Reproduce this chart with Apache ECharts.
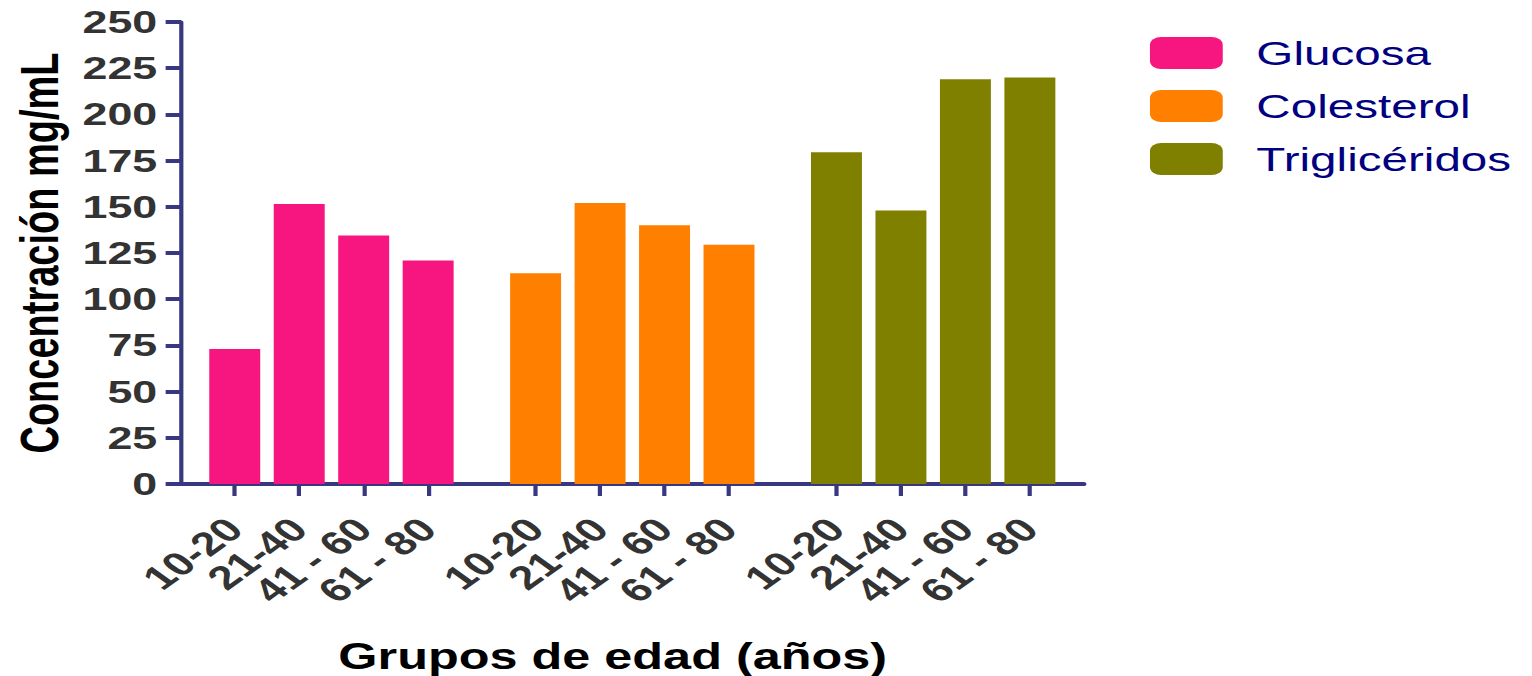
<!DOCTYPE html>
<html>
<head>
<meta charset="utf-8">
<script src="https://cdn.jsdelivr.net/npm/echarts@6/dist/echarts.min.js"></script>
<style>
html,body{margin:0;padding:0;background:#fff;overflow:hidden;}
#wrap{width:1532px;height:676px;overflow:hidden;}
#chart{width:1094.2857px;height:676px;transform:scaleX(1.4);transform-origin:0 0;}
</style>
</head>
<body>
<div id="wrap"><div id="chart"></div></div>
<script>
// ---- data ----
const ageGroups = ['10-20', '21-40', '41 - 60', '61 - 80'];
const seriesNames = ['Glucosa', 'Colesterol', 'Triglicéridos'];
const glucosa = [73, 151.5, 134.5, 121];
const colesterol = [114, 152, 140, 129.5];
const trigliceridos = [179.5, 148, 219, 220];
const seriesColors = ['#F7157F', '#FF8000', '#808000'];
const yAxisName = 'Concentración mg/mL';
const xAxisName = 'Grupos de edad (años)';

// ---- slot layout (category axis with spacer slots) ----
const LEAD = 2, STEP = 3, GAP = 5, TRAIL = 2;
function slotOf(g, i) { return LEAD + g * (STEP * (ageGroups.length - 1) + GAP) + i * STEP; }
const nSlots = slotOf(seriesNames.length - 1, ageGroups.length - 1) + 1 + TRAIL;
const categories = new Array(nSlots).fill('');
const labelSlots = new Set();
const valuesList = [glucosa, colesterol, trigliceridos];
const seriesData = valuesList.map(() => new Array(nSlots).fill(null));
valuesList.forEach((vals, g) => {
  vals.forEach((v, i) => {
    const s = slotOf(g, i);
    categories[s] = ageGroups[i];
    labelSlots.add(s);
    seriesData[g][s] = v;
  });
});
// empty edge slots act as the (hidden) min / max label positions
const shownSlot = (idx) => labelSlots.has(idx) || idx === 0 || idx === nSlots - 1;

const axisColor = '#383880';
const chart = echarts.init(document.getElementById('chart'), null, { renderer: 'svg' });
chart.setOption({
  animation: false,
  backgroundColor: '#fff',
  grid: { left: 129.3, right: 320, top: 22, bottom: 192, containLabel: false, outerBoundsMode: 'none' },
  legend: {
    orient: 'vertical',
    left: 816.4,
    top: 31,
    itemWidth: 52,
    itemHeight: 32,
    itemGap: 19,
    icon: 'roundRect',
    data: seriesNames,
    textStyle: {
      fontFamily: 'Liberation Sans, Arial, sans-serif',
      fontSize: 34,
      color: '#000080',
      padding: [0, 0, 0, 19],
      lineHeight: 32
    }
  },
  xAxis: {
    type: 'category',
    data: categories,
    boundaryGap: true,
    name: xAxisName,
    nameLocation: 'middle',
    nameGap: 154,
    nameTextStyle: {
      fontFamily: 'Liberation Sans, Arial, sans-serif',
      fontSize: 36, fontWeight: 'bold', color: '#000',
      padding: [0, 28, 0, 0]
    },
    axisLine: { show: true, lineStyle: { color: axisColor, width: 4 } },
    axisTick: {
      show: true,
      alignWithLabel: true,
      interval: shownSlot,
      length: 12,
      lineStyle: { color: axisColor, width: 3 }
    },
    axisLabel: {
      show: true,
      hideOverlap: false,
      showMinLabel: false,
      showMaxLabel: false,
      interval: shownSlot,
      rotate: 45,
      margin: 40,
      fontFamily: 'Liberation Sans, Arial, sans-serif',
      fontSize: 33, fontWeight: 'bold', color: '#333'
    },
    splitLine: { show: false }
  },
  yAxis: {
    type: 'value',
    min: 0, max: 250, interval: 25,
    name: yAxisName,
    nameLocation: 'middle',
    nameGap: 82,
    nameTextStyle: {
      fontFamily: 'Liberation Sans, Arial, sans-serif',
      fontSize: 38, fontWeight: 'bold', color: '#000'
    },
    axisLine: { show: true, lineStyle: { color: axisColor, width: 3 } },
    axisTick: { show: true, length: 11, lineStyle: { color: axisColor, width: 4 } },
    axisLabel: {
      margin: 17,
      fontFamily: 'Liberation Sans, Arial, sans-serif',
      fontSize: 32, fontWeight: 'bold', color: '#333'
    },
    splitLine: { show: false }
  },
  series: seriesNames.map((name, g) => ({
    name: name,
    type: 'bar',
    data: seriesData[g],
    barWidth: 36.4,
    barGap: '-100%',
    itemStyle: { color: seriesColors[g] }
  }))
});
</script>
</body>
</html>
